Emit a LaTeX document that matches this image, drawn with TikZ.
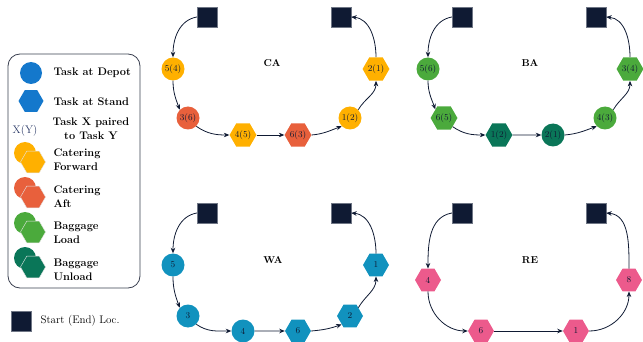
\documentclass[tikz,border=0pt]{standalone}
\usepackage{tikz}
\usetikzlibrary{shapes.geometric,arrows.meta}
\definecolor{navy}{HTML}{0F1A33}
\definecolor{cfwd}{HTML}{FFB000}
\definecolor{caft}{HTML}{E8603C}
\definecolor{bload}{HTML}{4BAA3C}
\definecolor{bunld}{HTML}{0A7658}
\definecolor{wablue}{HTML}{1192BE}
\definecolor{lgblue}{HTML}{1478CC}
\definecolor{repink}{HTML}{EC5A8C}
\definecolor{framegray}{HTML}{3A4050}
\definecolor{xyink}{HTML}{2B3A67}
\tikzset{
  depot/.style={circle,inner sep=0pt,minimum size=23pt,font=\fontsize{9}{10}\selectfont,text=navy},
  stand/.style={regular polygon,regular polygon sides=6,inner sep=0pt,minimum size=26pt,font=\fontsize{9}{10}\selectfont,text=navy},
  startloc/.style={rectangle,fill=navy,draw=navy!60,line width=0.3pt,minimum size=20pt,inner sep=0pt},
  route/.style={-{Stealth[length=5.5pt,width=4.5pt]},draw=navy,line width=0.8pt},
  panellabel/.style={font=\fontsize{10}{12}\selectfont\bfseries,text=black},
  legtext/.style={anchor=west,font=\fontsize{11}{14}\selectfont\bfseries,align=left,text=black},
  lshape/.style={draw=white!80!gray,line width=0.4pt},
}
\begin{document}
\begin{tikzpicture}[x=1pt,y=-1pt]
\useasboundingbox (0,0) rectangle (643,342);

% ---------- legend ----------
\node[draw=framegray,line width=0.8pt,rounded corners=12pt,minimum width=132pt,minimum height=234pt,inner sep=0pt] (legend) at (74,171) {};
\node[depot,fill=lgblue,minimum size=22pt] (lgdepot) at (31,73) {};
\node[legtext] (lgdepottxt) at (50,73) {Task at Depot};
\node[stand,fill=lgblue,minimum size=25pt] (lgstand) at (31,101) {};
\node[legtext] (lgstandtxt) at (50,102) {Task at Stand};
\node[font=\fontsize{11}{14}\selectfont,text=xyink] (lgxy) at (25,131) {X(Y)};
\node[font=\fontsize{11}{14}\selectfont\bfseries,align=center] (lgxytxt) at (91,129) {Task X paired\\to Task Y};

\node[depot,fill=cfwd,minimum size=22pt] (lgcf1) at (25,153) {};
\node[stand,fill=cfwd,lshape,minimum size=25pt] (lgcf2) at (33,162) {};
\node[legtext] (lgcftxt) at (50,160) {Catering\\Forward};

\node[depot,fill=caft,minimum size=22pt] (lgca1) at (25,188) {};
\node[stand,fill=caft,lshape,minimum size=25pt] (lgca2) at (33,197) {};
\node[legtext] (lgcatxt) at (50,197) {Catering\\Aft};

\node[depot,fill=bload,minimum size=22pt] (lgbl1) at (25,223) {};
\node[stand,fill=bload,lshape,minimum size=25pt] (lgbl2) at (33,232) {};
\node[legtext] (lgbltxt) at (50,233) {Baggage\\Load};

\node[depot,fill=bunld,minimum size=22pt] (lgbu1) at (25,258) {};
\node[stand,fill=bunld,lshape,minimum size=25pt] (lgbu2) at (33,267) {};
\node[legtext] (lgbutxt) at (50,270) {Baggage\\Unload};

\node[startloc] (lgstart) at (21,321) {};
\node[anchor=west,font=\fontsize{11}{14}\selectfont] (lgstarttxt) at (37,321) {Start (End) Loc.};

% ---------- CA: catering ----------
\node[startloc] (caS) at (207,17) {};
\node[startloc] (caE) at (341,17) {};
\node[panellabel] (caL) at (272,63) {CA};
\node[depot,fill=cfwd] (ca1) at (173,69) {5(4)};
\node[depot,fill=caft] (ca2) at (188,118) {3(6)};
\node[stand,fill=cfwd] (ca3) at (243,135) {4(5)};
\node[stand,fill=caft] (ca4) at (298,135) {6(3)};
\node[depot,fill=cfwd] (ca5) at (350,118) {1(2)};
\node[stand,fill=cfwd] (ca6) at (376,69) {2(1)};
\draw[route] (caS.west) to[out=190,in=90] (ca1.north);
\draw[route] (ca1.south) to[out=-90,in=110] (ca2.north west);
\draw[route] (ca2.south east) to[out=-35,in=180] (ca3.west);
\draw[route] (ca3.east) -- (ca4.west);
\draw[route] (ca4.east) to[out=5,in=200] (ca5.south west);
\draw[route] (ca5.north east) to[out=60,in=-90] (ca6.south);
\draw[route] (ca6.north) to[out=90,in=-5] (caE.east);

% ---------- BA: baggage ----------
\node[startloc] (baS) at (462,17) {};
\node[startloc] (baE) at (596,17) {};
\node[panellabel] (baL) at (530,63) {BA};
\node[depot,fill=bload] (ba1) at (428,69) {5(6)};
\node[stand,fill=bload] (ba2) at (444,118) {6(5)};
\node[stand,fill=bunld] (ba3) at (499,135) {1(2)};
\node[depot,fill=bunld] (ba4) at (553,135) {2(1)};
\node[depot,fill=bload] (ba5) at (605,118) {4(3)};
\node[stand,fill=bload] (ba6) at (630,69) {3(4)};
\draw[route] (baS.west) to[out=190,in=90] (ba1.north);
\draw[route] (ba1.south) to[out=-90,in=110] (ba2.north west);
\draw[route] (ba2.south east) to[out=-35,in=180] (ba3.west);
\draw[route] (ba3.east) -- (ba4.west);
\draw[route] (ba4.east) to[out=5,in=200] (ba5.south west);
\draw[route] (ba5.north east) to[out=60,in=-90] (ba6.south);
\draw[route] (ba6.north) to[out=90,in=-5] (baE.east);

% ---------- WA: water ----------
\node[startloc] (waS) at (207,213) {};
\node[startloc] (waE) at (341,213) {};
\node[panellabel] (waL) at (273,260) {WA};
\node[depot,fill=wablue] (wa1) at (173,265) {5};
\node[depot,fill=wablue] (wa2) at (188,316) {3};
\node[depot,fill=wablue] (wa3) at (243,331) {4};
\node[stand,fill=wablue] (wa4) at (298,331) {6};
\node[stand,fill=wablue] (wa5) at (350,316) {2};
\node[stand,fill=wablue] (wa6) at (376,265) {1};
\draw[route] (waS.west) to[out=190,in=90] (wa1.north);
\draw[route] (wa1.south) to[out=-90,in=110] (wa2.north west);
\draw[route] (wa2.south east) to[out=-35,in=180] (wa3.west);
\draw[route] (wa3.east) -- (wa4.west);
\draw[route] (wa4.east) to[out=5,in=200] (wa5.south west);
\draw[route] (wa5.north east) to[out=60,in=-90] (wa6.south);
\draw[route] (wa6.north) to[out=90,in=-5] (waE.east);

% ---------- RE: refuelling ----------
\node[startloc] (reS) at (462,213) {};
\node[startloc] (reE) at (596,213) {};
\node[panellabel] (reL) at (530,260) {RE};
\node[stand,fill=repink] (re1) at (428,280) {4};
\node[stand,fill=repink] (re2) at (481,331) {6};
\node[stand,fill=repink] (re3) at (576,331) {1};
\node[stand,fill=repink] (re4) at (629,280) {8};
\draw[route] (reS.west) to[out=190,in=90] (re1.north);
\draw[route] (re1.south) to[out=-90,in=180] (re2.west);
\draw[route] (re2.east) -- (re3.west);
\draw[route] (re3.east) to[out=0,in=-90] (re4.south);
\draw[route] (re4.north) to[out=90,in=-5] (reE.east);
\end{tikzpicture}
\end{document}
